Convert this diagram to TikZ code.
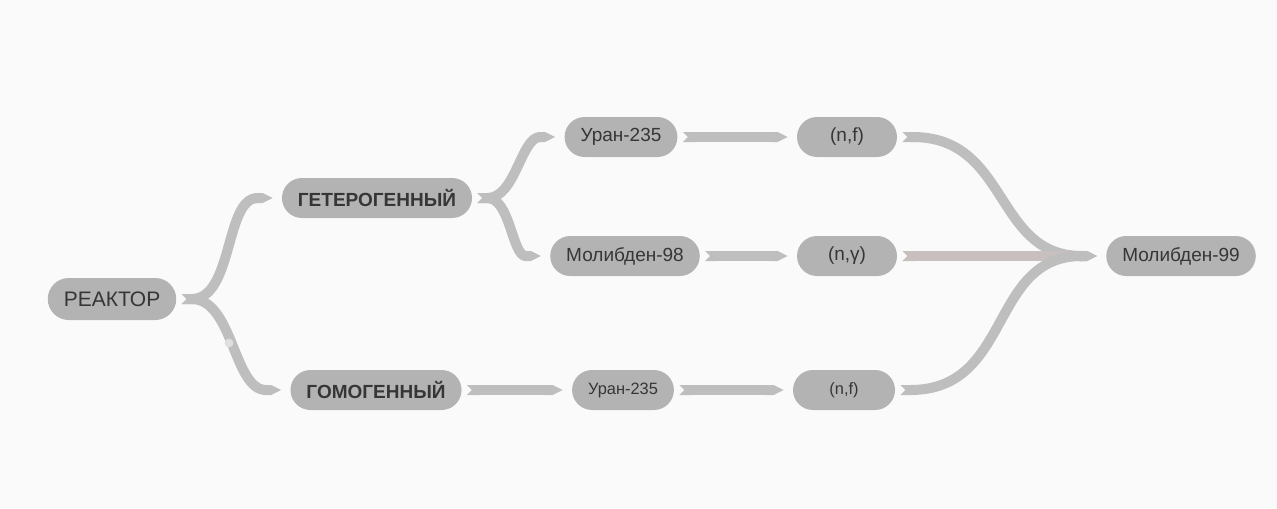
\documentclass[tikz,border=0pt]{standalone}
\usepackage{fontspec}
\setmainfont{Liberation Sans}
\usepackage{tikz}
\usetikzlibrary{arrows.meta, positioning}

\definecolor{bggray}{HTML}{FAFAFA}
\definecolor{blobgray}{HTML}{B3B3B3}
\definecolor{linkgray}{HTML}{BEBEBE}
\definecolor{linkrose}{HTML}{C8BFBF}
\definecolor{txtgray}{HTML}{363636}

\tikzset{
  blob/.style={fill=blobgray, rounded corners=10pt, minimum height=20pt,
    inner xsep=8pt, text=txtgray, font=\fontsize{9.5}{11}\selectfont},
  bigtxt/.style={font=\fontsize{10.5}{12}\selectfont, minimum height=21pt, rounded corners=10.5pt},
  boldtxt/.style={font=\bfseries\fontsize{9.5}{11}\selectfont},
  smalltxt/.style={font=\fontsize{8.2}{10}\selectfont},
  link/.style={draw=linkgray, line width=5pt,
    {Triangle Cap[reversed]}-{Triangle Cap[length=5pt]},
    shorten <=2.5pt, shorten >=4.5pt},
}

\begin{document}
\begin{tikzpicture}[x=0.5pt,y=-0.5pt]
\fill[bggray] (0,0) rectangle (1277,508);
\useasboundingbox (0,0) rectangle (1277,508);

\node[blob,bigtxt](reactor) at (112,299) {РЕАКТОР};
\node[blob,boldtxt](het) at (377,198) {ГЕТЕРОГЕННЫЙ};
\node[blob,boldtxt](hom) at (376,390) {ГОМОГЕННЫЙ};
\node[blob](u1) at (621,137) {Уран-235};
\node[blob](mo98) at (625,256) {Молибден-98};
\node[blob,minimum width=50pt](nf1) at (847,137) {(n,f)};
\node[blob,minimum width=50pt](ng) at (847,256) {(n,γ)};
\node[blob,smalltxt](u2) at (623,390) {Уран-235};
\node[blob,smalltxt,minimum width=51pt](nf2) at (844,390) {(n,f)};
\node[blob](mo99) at (1181,256) {Молибден-99};

\draw	(reactor) edge[link, out=0, in=180] (het)
		(reactor) edge[link, out=0, in=180] (hom)
		(het) edge[link, out=0, in=180] (u1)
		(het) edge[link, out=0, in=180] (mo98)
		(u1) edge[link] (nf1)
		(mo98) edge[link] (ng)
		(hom) edge[link] (u2)
		(u2) edge[link] (nf2)
		
		(nf1) edge[link, out=0, in=180, looseness=1.2] (mo99)
		(ng) edge[link, draw=linkrose] (mo99)
		(nf2) edge[link, out=0, in=180, looseness=1.2] (mo99)
		;

\fill[gray!25] (229,343) circle (2.2pt);
		
\end{tikzpicture}
\end{document}
